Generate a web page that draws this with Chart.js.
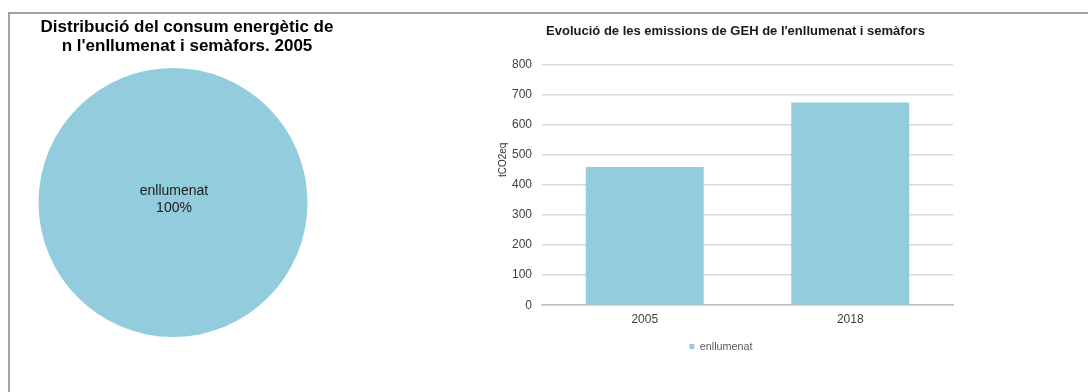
<!DOCTYPE html>
<html>
<head>
<meta charset="utf-8">
<script src="https://cdn.jsdelivr.net/npm/chart.js@4.4.1/dist/chart.umd.min.js"></script>
<style>
  html, body { margin: 0; padding: 0; background: #fff; }
  body { width: 1088px; height: 392px; position: relative; overflow: hidden; font-family: "Liberation Sans", Arial, sans-serif; }
  .frame { position: absolute; left: 8px; top: 12px; right: -4px; bottom: -4px; border-top: 2px solid #a3a3a3; border-left: 2px solid #a3a3a3; }
  #pieWrap { position: absolute; left: 10px; top: 14px; width: 355px; height: 323px; }
  #barWrap { position: absolute; left: 470px; top: 14px; width: 531px; height: 360px; }
</style>
</head>
<body>
<div class="frame"></div>
<div id="pieWrap"><canvas id="pie"></canvas></div>
<div id="barWrap"><canvas id="bar"></canvas></div>
<script>
// Energy-use share for street lighting and traffic lights, 2005
const pieLabels = ['enllumenat'];
const pieShares = [100];

// GHG emissions (tCO2eq) by year
const years = ['2005', '2018'];
const emissions = [460, 675];
const seriesName = 'enllumenat';
const yTicks = [0, 100, 200, 300, 400, 500, 600, 700, 800];

const FONT = '"Liberation Sans", Arial, sans-serif';
const BLUE = '#93cddd';

// Writes category name and percentage at the centre of each slice
const sliceLabels = {
  id: 'sliceLabels',
  afterDatasetsDraw(chart) {
    const ctx = chart.ctx;
    const meta = chart.getDatasetMeta(0);
    const total = chart.data.datasets[0].data.reduce((a, b) => a + b, 0);
    meta.data.forEach((arc, i) => {
      const full = (arc.endAngle - arc.startAngle) >= Math.PI * 2 - 1e-6;
      const pos = full ? { x: arc.x, y: arc.y } : arc.tooltipPosition();
      const pct = Math.round(chart.data.datasets[0].data[i] / total * 100) + '%';
      ctx.save();
      ctx.fillStyle = '#1a1a1a';
      ctx.font = '14px ' + FONT;
      ctx.textAlign = 'center';
      ctx.textBaseline = 'middle';
      ctx.fillText(chart.data.labels[i], pos.x + 1, pos.y - 11.5);
      ctx.fillText(pct, pos.x + 1, pos.y + 5.5);
      ctx.restore();
    });
  }
};

// Moves the title block sideways so it sits over the whole panel
const shiftTitle = {
  id: 'shiftTitle',
  afterLayout(chart, args, opts) {
    const t = chart.titleBlock;
    if (t) { t.left += opts.dx; t.right += opts.dx; }
  }
};

new Chart(document.getElementById('pie'), {
  type: 'pie',
  data: {
    labels: pieLabels,
    datasets: [{ data: pieShares, backgroundColor: [BLUE], borderWidth: 0 }]
  },
  options: {
    responsive: true,
    maintainAspectRatio: false,
    animation: false,
    layout: { padding: { left: 0, right: 29, top: 0, bottom: 0 } },
    plugins: {
      legend: { display: false },
      tooltip: { enabled: false },
      shiftTitle: { dx: 14 },
      title: {
        display: true,
        text: ['Distribució del consum energètic de', "n l'enIlumenat i semàfors. 2005"],
        color: '#000',
        font: { family: FONT, size: 17, weight: 'bold', lineHeight: '19px' },
        padding: { top: 3.5, bottom: 12.5 }
      }
    }
  },
  plugins: [sliceLabels, shiftTitle]
});

// Rotated unit label beside the value axis
const unitLabel = {
  id: 'unitLabel',
  afterDraw(chart) {
    const ctx = chart.ctx;
    const a = chart.chartArea;
    ctx.save();
    ctx.translate(a.left - 39, a.top + a.height * 0.395);
    ctx.rotate(-Math.PI / 2);
    ctx.fillStyle = '#333333';
    ctx.font = '10px ' + FONT;
    ctx.textAlign = 'center';
    ctx.textBaseline = 'middle';
    ctx.fillText('tCO2eq', 0, 0);
    ctx.restore();
  }
};

// Nudges the legend row to the right
const shiftLegend = {
  id: 'shiftLegend',
  afterLayout(chart, args, opts) {
    const l = chart.legend;
    if (l) { l.left += opts.dx; l.right += opts.dx; }
  }
};

new Chart(document.getElementById('bar'), {
  type: 'bar',
  data: {
    labels: years,
    datasets: [{
      label: seriesName,
      data: emissions,
      backgroundColor: BLUE,
      borderWidth: 0,
      categoryPercentage: 1,
      barPercentage: 0.574
    }]
  },
  options: {
    responsive: true,
    maintainAspectRatio: false,
    animation: false,
    layout: { padding: { left: 0, right: 48, top: 0, bottom: 12 } },
    scales: {
      x: {
        grid: { display: false, drawTicks: false },
        border: { display: true, color: '#bfbfbf', width: 1.5 },
        ticks: { color: '#404040', font: { family: FONT, size: 12 }, padding: 7 },
        afterFit(s) { s.height = 26; }
      },
      y: {
        min: 0,
        max: 800,
        afterBuildTicks(s) { s.ticks = yTicks.map(v => ({ value: v })); },
        grid: { color: '#d9d9d9', lineWidth: 1.5, drawTicks: false },
        border: { display: false },
        ticks: { color: '#404040', font: { family: FONT, size: 12 }, padding: 10 },
        afterFit(s) { s.width = 72; }
      }
    },
    plugins: {
      tooltip: { enabled: false },
      shiftLegend: { dx: 9.5 },
      shiftTitle: { dx: 24 },
      title: {
        display: true,
        text: "Evolució de les emissions de GEH de l'enllumenat i semàfors",
        color: '#1a1a1a',
        font: { family: FONT, size: 13, weight: 'bold', lineHeight: 1.2 },
        padding: { top: 9.2, bottom: 26.2 }
      },
      legend: {
        position: 'bottom',
        labels: {
          usePointStyle: true,
          pointStyle: 'rect',
          boxWidth: 5,
          boxHeight: 5,
          color: '#595959',
          font: { family: FONT, size: 10.8 },
          padding: 10
        }
      }
    }
  },
  plugins: [unitLabel, shiftLegend, shiftTitle]
});
</script>
</body>
</html>
